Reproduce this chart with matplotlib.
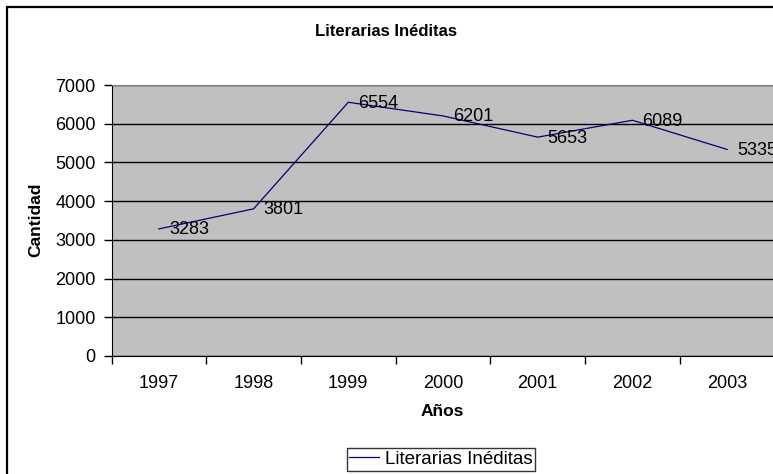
import matplotlib
matplotlib.use('Agg')
from matplotlib import pyplot as plt
from matplotlib.patches import Rectangle

plt.rcParams['font.family'] = ['Liberation Sans', 'DejaVu Sans']

# data
years = ['1997', '1998', '1999', '2000', '2001', '2002', '2003']
cantidad = [3283, 3801, 6554, 6201, 5653, 6089, 5335]
seriesName = 'Literarias Inéditas'
yTicks = [0, 1000, 2000, 3000, 4000, 5000, 6000, 7000]

W, H = 773, 474
fig = plt.figure(figsize=(W / 100, H / 100), dpi=100)
fig.patch.set_facecolor('white')

# outer chart border (right and bottom edges fall outside the picture)
fig.add_artist(Rectangle((7 / W, -0.1), 2, 1 - 7 / H + 0.1, transform=fig.transFigure,
                         fill=False, edgecolor='black', linewidth=1.6))

left, right, top, bottom = 111.5, 774.5, 85, 356
ax = fig.add_axes([left / W, 1 - bottom / H, (right - left) / W, (bottom - top) / H])
ax.set_facecolor('#C0C0C0')

xs = list(range(len(years)))
line, = ax.plot(xs, cantidad, color='#000080', linewidth=0.9, label=seriesName)

for x, v in zip(xs, cantidad):
    ax.annotate(str(v), (x, v), xytext=(10, -1), textcoords='offset pixels',
                ha='left', va='center', fontsize=13, color='black', annotation_clip=False)

ax.set_xlim(-0.5, len(years) - 0.5)
ax.set_ylim(0, 7000)
ax.set_yticks(yTicks)
ax.set_yticklabels([str(t) for t in yTicks], fontsize=13)
ax.yaxis.grid(True, color='black', linewidth=1.0)
ax.set_axisbelow(True)

ax.set_xticks(xs)
ax.set_xticklabels(years, fontsize=13)
ax.set_xticks([x + 0.5 for x in xs[:-1]] + [-0.5], minor=True)
ax.tick_params(axis='x', which='major', length=0, pad=14)
ax.tick_params(axis='x', which='minor', length=6, width=1, color='black', direction='out')
ax.tick_params(axis='y', length=6, width=1, color='black', direction='out', pad=5.5)

ax.spines['top'].set_color('#808080')
ax.spines['right'].set_visible(False)
ax.spines['left'].set_color('black')
ax.spines['bottom'].set_color('black')

fig.text(386 / W, 1 - 32 / H, seriesName, ha='center', va='center', fontsize=12, fontweight='bold')
fig.text(442 / W, 1 - 412 / H, 'Años', ha='center', va='center', fontsize=12.5, fontweight='bold')
fig.text(36 / W, 1 - 220 / H, 'Cantidad', ha='center', va='center', rotation=90,
         fontsize=12.5, fontweight='bold')

leg = fig.legend(handles=[line], loc='upper center', bbox_to_anchor=(441 / W, 1 - 448 / H),
                 fontsize=13.5, frameon=True, fancybox=False, edgecolor='black',
                 handlelength=1.6, handletextpad=0.3, borderpad=0.15, borderaxespad=0)
leg.get_frame().set_linewidth(1.0)

plt.savefig('out.png', dpi=100)
